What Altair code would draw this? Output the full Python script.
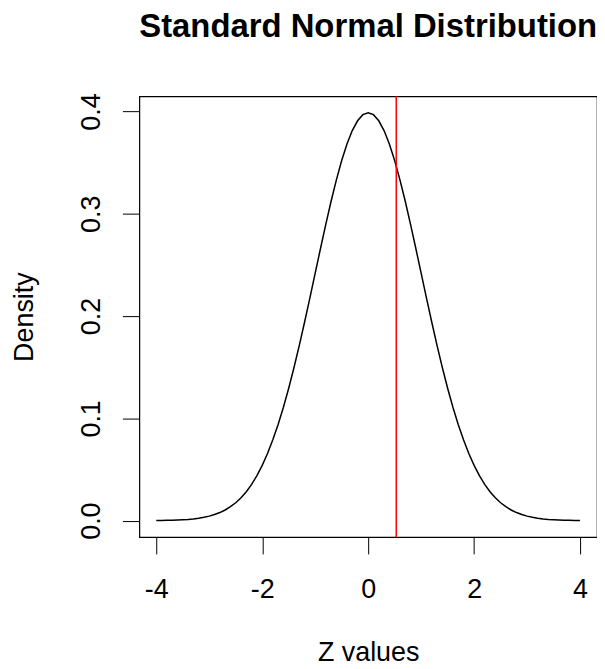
import altair as alt
import pandas as pd

# Density curve (z from -4 to 4 in steps of 0.1)
z_right = [0.0, 0.1, 0.2, 0.3, 0.4, 0.5, 0.6, 0.7, 0.8, 0.9, 1.0,
           1.1, 1.2, 1.3, 1.4, 1.5, 1.6, 1.7, 1.8, 1.9, 2.0,
           2.1, 2.2, 2.3, 2.4, 2.5, 2.6, 2.7, 2.8, 2.9, 3.0,
           3.1, 3.2, 3.3, 3.4, 3.5, 3.6, 3.7, 3.8, 3.9, 4.0]
dens_right = [0.3989, 0.3970, 0.3910, 0.3814, 0.3683, 0.3521, 0.3332, 0.3123, 0.2897, 0.2661, 0.2420,
              0.2179, 0.1942, 0.1714, 0.1497, 0.1295, 0.1109, 0.0940, 0.0790, 0.0656, 0.0540,
              0.0440, 0.0355, 0.0283, 0.0224, 0.0175, 0.0136, 0.0104, 0.0079, 0.0060, 0.0044,
              0.0033, 0.0024, 0.0017, 0.0012, 0.0009, 0.0006, 0.0004, 0.0003, 0.0002, 0.0001]
z_values = [-v for v in z_right[:0:-1]] + z_right
density = dens_right[:0:-1] + dens_right

cut_z = [0.53]

x_ticks = [-4, -2, 0, 2, 4]
y_ticks = [0.0, 0.1, 0.2, 0.3, 0.4]

curve_df = pd.DataFrame({"z": z_values, "density": density})
cut_df = pd.DataFrame({"z": cut_z})

FONT = "Liberation Sans"
FS = 27

x_scale = alt.Scale(domain=[-4.32, 4.32], nice=False, zero=False)
y_scale = alt.Scale(domain=[-0.016, 0.415], nice=False, zero=False)

x_axis = alt.Axis(values=x_ticks, title="Z values", domain=False, grid=False,
                  tickColor="black", tickSize=17, tickWidth=1,
                  labelFont=FONT, labelFontSize=FS, labelColor="black",
                  labelBaseline="alphabetic", labelPadding=44, labelFlush=False,
                  labelExpr="'' + datum.value",
                  titleFont=FONT, titleFontSize=FS, titleFontWeight="normal",
                  titleColor="black", titleBaseline="alphabetic", titleY=124)
y_axis = alt.Axis(values=y_ticks, title="Density", domain=False, grid=False,
                  tickColor="black", tickSize=17, tickWidth=1,
                  labelFont=FONT, labelFontSize=FS, labelColor="black",
                  labelAngle=-90, labelAlign="center", labelBaseline="alphabetic",
                  labelPadding=23, labelFlush=False, format=".1f",
                  titleFont=FONT, titleFontSize=FS, titleFontWeight="normal",
                  titleColor="black", titleBaseline="alphabetic", titleX=-107,
                  titleAngle=-90)

curve = alt.Chart(curve_df).mark_line(color="black", strokeWidth=1.5).encode(
    x=alt.X("z:Q", scale=x_scale, axis=x_axis),
    y=alt.Y("density:Q", scale=y_scale, axis=y_axis),
)

cut = alt.Chart(cut_df).mark_rule(color="red", strokeWidth=1.5).encode(
    x=alt.X("z:Q", scale=x_scale),
)

chart = alt.layer(curve, cut).properties(
    width=460,
    height=443,
    title=alt.TitleParams("Standard Normal Distribution", font=FONT, fontSize=33,
                          fontWeight="bold", color="black", anchor="middle",
                          offset=49),
    autosize=alt.AutoSizeParams(type="none"),
    padding={"left": 132, "top": 87, "right": 0, "bottom": 131},
).configure(background="white").configure_view(stroke="black", strokeWidth=1.2)

chart.save("out.html", embed_options={"renderer": "svg", "actions": False})
